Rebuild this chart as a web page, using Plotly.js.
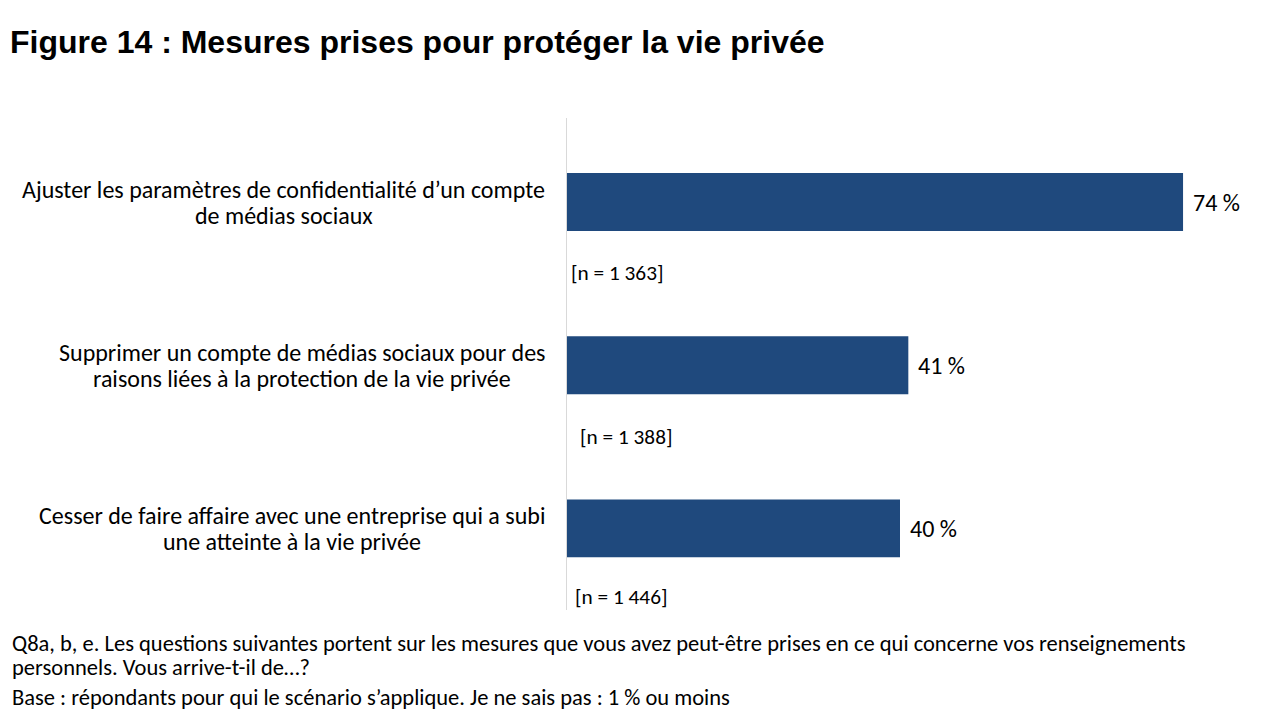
<!DOCTYPE html>
<html><head><meta charset="utf-8">
<script src="https://cdn.plot.ly/plotly-3.0.1.min.js"></script>
<style>html,body{margin:0;padding:0;background:#fff;}#chart{width:1280px;height:720px;}</style>
</head><body><div id="chart"></div>
<script>
const categories = [
  ["Ajuster les paramètres de confidentialité d’un compte", "de médias sociaux"],
  ["Supprimer un compte de médias sociaux pour des", "raisons liées à la protection de la vie privée"],
  ["Cesser de faire affaire avec une entreprise qui a subi", "une atteinte à la vie privée"]
];
const values = [74, 41, 40];
const valueLabels = ["74 %", "41 %", "40 %"];
const sampleLabels = ["[n = 1 363]", "[n = 1 388]", "[n = 1 446]"];
const titleText = "Figure 14 : Mesures prises pour protéger la vie privée";
const noteLines = [
  "Q8a, b, e. Les questions suivantes portent sur les mesures que vous avez peut-être prises en ce qui concerne vos renseignements",
  "personnels. Vous arrive-t-il de…?",
  "Base : répondants pour qui le scénario s’applique. Je ne sais pas : 1 % ou moins"
];

const FONT = "Carlito, Calibri, Lato, 'Liberation Sans', sans-serif";
const LABEL_SIZE = 24;
const ids = categories.map((c, i) => i);
const catNames = categories.map(c => c.join(' '));

const ctx = document.createElement('canvas').getContext('2d');
ctx.font = LABEL_SIZE + "px " + FONT;
function textW(t) { return ctx.measureText(t).width; }

const L = 567, PW = 666, T = 118, PH = 492;

const trace = {
  type: 'bar', orientation: 'h',
  x: values, y: ids,
  customdata: catNames,
  width: 0.355,
  marker: {color: '#1F497D'},
  hoverinfo: 'none'
};

const annotations = [];
const LINE_GAP = 26;
categories.forEach((lines, i) => {
  const maxW = Math.max(...lines.map(textW));
  const cx = (L - 22 - maxW / 2 - L) / PW;
  lines.forEach((ln, j) => {
    const off = (j - (lines.length - 1) / 2) * LINE_GAP;
    annotations.push({xref: 'paper', yref: 'y', x: cx, y: i, yshift: -off, xanchor: 'center', yanchor: 'middle',
      text: ln, showarrow: false, font: {family: FONT, size: LABEL_SIZE, color: '#000'}});
  });
});
values.forEach((v, i) => {
  annotations.push({xref: 'x', yref: 'y', x: v, y: i, xshift: 8, xanchor: 'left', yanchor: 'middle',
    text: valueLabels[i], showarrow: false, font: {family: FONT, size: 24, color: '#000'}});
});
const nShift = [2, 11, 6];
const nOff = [0.435, 0.44, 0.42];
sampleLabels.forEach((s, i) => {
  annotations.push({xref: 'x', yref: 'y', x: 0, y: i + nOff[i], xshift: nShift[i], xanchor: 'left', yanchor: 'middle',
    text: s, showarrow: false, font: {family: FONT, size: 21.3, color: '#000'}});
});
const noteY = [643, 667, 697];
noteLines.forEach((t, i) => {
  annotations.push({xref: 'paper', yref: 'paper', x: (10 - L) / PW, y: (T + PH - noteY[i]) / PH, xanchor: 'left', yanchor: 'middle',
    align: 'left', text: t, showarrow: false, font: {family: FONT, size: 22.5, color: '#000'}});
});

const layout = {
  width: 1280, height: 720,
  margin: {l: L, r: 1280 - L - PW, t: T, b: 720 - T - PH},
  paper_bgcolor: '#fff', plot_bgcolor: '#fff',
  title: {text: '<b>' + titleText + '</b>', x: 10/1280, xanchor: 'left', y: 1 - 42/720, yanchor: 'middle',
    font: {family: "Arial, 'Liberation Sans', sans-serif", size: 32, color: '#000'}},
  xaxis: {range: [0, 80], showgrid: false, zeroline: false, showticklabels: false, showline: false, ticks: ''},
  yaxis: {range: [2.5, -0.515], showgrid: false, zeroline: false, showticklabels: false, ticks: '',
    showline: true, linecolor: '#d9d9d9', linewidth: 1},
  showlegend: false,
  annotations: annotations
};
Plotly.newPlot('chart', [trace], layout, {displayModeBar: false, staticPlot: true});
</script></body></html>
